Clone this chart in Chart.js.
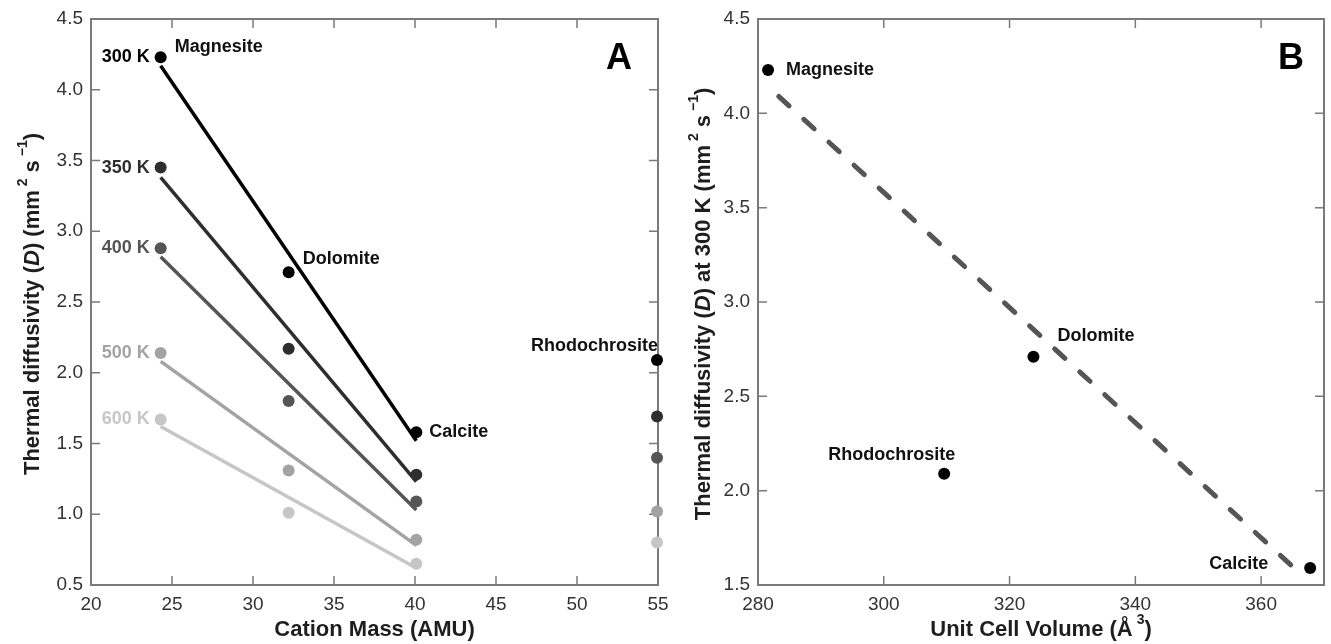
<!DOCTYPE html>
<html>
<head>
<meta charset="utf-8">
<script src="https://cdn.jsdelivr.net/npm/chart.js@4"></script>
<style>
html, body { margin: 0; padding: 0; background: #fff; overflow: hidden; }
#wrapA { position: absolute; left: 0; top: 0; }
#wrapB { position: absolute; left: 672px; top: 0; }
</style>
</head>
<body>
<div id="wrapA"><canvas id="chartA" width="672" height="644"></canvas></div>
<div id="wrapB"><canvas id="chartB" width="659" height="644"></canvas></div>
<script>
const FONT = '"Liberation Sans", Arial, Helvetica, sans-serif';

// panel A: diffusivity vs cation mass
const minerals = ['Magnesite', 'Dolomite', 'Calcite', 'Rhodochrosite'];
const cationMass = [24.3, 32.2, 40.08, 54.94];
const temps = ['300 K', '350 K', '400 K', '500 K', '600 K'];
const d300 = [4.23, 2.71, 1.58, 2.09];
const d350 = [3.45, 2.17, 1.28, 1.69];
const d400 = [2.88, 1.80, 1.09, 1.40];
const d500 = [2.14, 1.31, 0.82, 1.02];
const d600 = [1.67, 1.01, 0.65, 0.80];
// fitted lines (Magnesite -> Calcite)
const fitMass = [24.3, 40.08];
const fit300 = [4.17, 1.52];
const fit350 = [3.38, 1.23];
const fit400 = [2.82, 1.03];
const fit500 = [2.08, 0.78];
const fit600 = [1.62, 0.62];
const massTicks = [20, 25, 30, 35, 40, 45, 50, 55];
const diffTicksA = [0.5, 1.0, 1.5, 2.0, 2.5, 3.0, 3.5, 4.0, 4.5];

// panel B: diffusivity at 300 K vs unit cell volume
const mineralsB = ['Magnesite', 'Dolomite', 'Rhodochrosite', 'Calcite'];
const cellVolume = [281.6, 323.8, 309.6, 367.8];
const d300B = [4.23, 2.71, 2.09, 1.59];
const trendVolume = [283.3, 365.9];
const trendD = [4.09, 1.57];
const volumeTicks = [280, 300, 320, 340, 360];
const diffTicksB = [1.5, 2.0, 2.5, 3.0, 3.5, 4.0, 4.5];

const tempColors = ['#000000', '#2e2e2e', '#555555', '#a3a3a3', '#c6c6c6'];
const seriesA = [d300, d350, d400, d500, d600];
const fitsA = [fit300, fit350, fit400, fit500, fit600];

function pts(xs, ys) {
    return xs.map((x, i) => ({x: x, y: ys[i]}));
}

function fixedTicks(values) {
    return function (scale) {
        scale.ticks = values.map(v => ({value: v}));
    };
}

function tickLabel(v) {
    return Number.isInteger(v) && Math.abs(v) >= 10 ? String(v) : v.toFixed(1);
}

function drawRich(ctx, parts, cx, cy, rotate) {
    ctx.save();
    ctx.translate(cx, cy);
    if (rotate) ctx.rotate(-Math.PI / 2);
    const fontOf = p => (p.i ? 'italic ' : '') + 'bold ' + (p.sup ? 14 : 22) + 'px ' + FONT;
    let w = 0;
    parts.forEach(p => { ctx.font = fontOf(p); w += ctx.measureText(p.t).width; });
    let xp = -w / 2;
    ctx.textAlign = 'left';
    ctx.textBaseline = 'middle';
    ctx.fillStyle = '#1e1e1e';
    parts.forEach(p => {
        ctx.font = fontOf(p);
        ctx.fillText(p.t, xp, p.sup ? -10 : 0);
        xp += ctx.measureText(p.t).width;
    });
    ctx.restore();
}

// frame with inward ticks on all four sides
const framePlugin = {
    id: 'frame',
    beforeDatasetsDraw(chart) {
        const ctx = chart.ctx, a = chart.chartArea;
        const x = chart.scales.x, y = chart.scales.y;
        ctx.save();
        ctx.strokeStyle = '#7a7a7a';
        ctx.lineWidth = 1.5;
        ctx.beginPath();
        x.ticks.forEach(t => {
            const px = x.getPixelForValue(t.value);
            ctx.moveTo(px, a.bottom); ctx.lineTo(px, a.bottom - 9);
            ctx.moveTo(px, a.top); ctx.lineTo(px, a.top + 9);
        });
        y.ticks.forEach(t => {
            const py = y.getPixelForValue(t.value);
            ctx.moveTo(a.left, py); ctx.lineTo(a.left + 9, py);
            ctx.moveTo(a.right, py); ctx.lineTo(a.right - 9, py);
        });
        ctx.stroke();
        ctx.lineWidth = 2;
        ctx.strokeRect(a.left, a.top, a.right - a.left, a.bottom - a.top);
        ctx.restore();
    }
};

function textPlugin(id, labels, panel, yTitle, xTitle) {
    return {
        id: id,
        afterDatasetsDraw(chart) {
            const ctx = chart.ctx, a = chart.chartArea;
            const x = chart.scales.x, y = chart.scales.y;
            ctx.save();
            ctx.textBaseline = 'middle';
            labels.forEach(l => {
                ctx.font = 'bold ' + (l.size || 18) + 'px ' + FONT;
                ctx.fillStyle = l.color || '#111';
                ctx.textAlign = l.align || 'left';
                ctx.fillText(l.text, x.getPixelForValue(l.x) + l.dx, y.getPixelForValue(l.y) + l.dy);
            });
            ctx.font = 'bold 36px ' + FONT;
            ctx.fillStyle = '#000';
            ctx.textAlign = 'center';
            ctx.fillText(panel.text, a.right + panel.dx, a.top + 40);
            ctx.restore();
            drawRich(ctx, yTitle, yTitle.cx, (a.top + a.bottom) / 2 + 2, true);
            drawRich(ctx, xTitle, (a.left + a.right) / 2, 630, false);
        }
    };
}

function scaleOpts(min, max, values, size) {
    return {
        type: 'linear',
        min: min,
        max: max,
        afterBuildTicks: fixedTicks(values),
        afterFit: s => {
            if (s.isHorizontal()) s.height = size; else s.width = size;
            s.paddingLeft = 0; s.paddingRight = 0;
            s.paddingTop = 0; s.paddingBottom = 0;
        },
        grid: {display: false, drawTicks: false},
        border: {display: false},
        ticks: {
            autoSkip: false,
            maxRotation: 0,
            padding: 8,
            color: '#333',
            font: {family: FONT, size: 19},
            callback: v => tickLabel(v)
        }
    };
}

// ---------- chart A ----------
const datasetsA = [];
temps.forEach((t, i) => {
    datasetsA.push({
        label: t,
        data: pts(cationMass, seriesA[i]),
        showLine: false,
        pointRadius: 6,
        pointHoverRadius: 6,
        pointBackgroundColor: tempColors[i],
        pointBorderWidth: 0,
        clip: false,
        order: 0
    });
    datasetsA.push({
        label: t + ' fit',
        data: pts(fitMass, fitsA[i]),
        showLine: true,
        borderColor: tempColors[i],
        borderWidth: 3.5,
        pointRadius: 0,
        fill: false,
        clip: false,
        order: 1
    });
});

const labelsA = temps.map((t, i) => ({
    text: t, x: cationMass[0], y: seriesA[i][0], dx: -11, dy: 0, align: 'right', color: tempColors[i]
}));
labelsA.push({text: minerals[0], x: cationMass[0], y: d300[0], dx: 14, dy: -10});
labelsA.push({text: minerals[1], x: cationMass[1], y: d300[1], dx: 14, dy: -13});
labelsA.push({text: minerals[2], x: cationMass[2], y: d300[2], dx: 13, dy: 0});
labelsA.push({text: minerals[3], x: cationMass[3], y: d300[3], dx: 1, dy: -14, align: 'right'});

const yTitleA = [
    {t: 'Thermal diffusivity ('}, {t: 'D', i: 1}, {t: ') (mm'}, {t: ' 2', sup: 1},
    {t: ' s'}, {t: ' \u22121', sup: 1}, {t: ')'}
];
yTitleA.cx = 33;
const xTitleA = [{t: 'Cation Mass (AMU)'}];

new Chart(document.getElementById('chartA').getContext('2d'), {
    type: 'scatter',
    data: {datasets: datasetsA},
    options: {
        responsive: false,
        animation: false,
        layout: {padding: {left: 0, right: 14, top: 19, bottom: 0}},
        plugins: {legend: {display: false}, tooltip: {enabled: false}},
        scales: {
            x: scaleOpts(20, 55, massTicks, 59),
            y: scaleOpts(0.5, 4.5, diffTicksA, 91)
        }
    },
    plugins: [framePlugin, textPlugin('textA', labelsA, {text: 'A', dx: -39}, yTitleA, xTitleA)]
});

// ---------- chart B ----------
const labelsB = [
    {text: mineralsB[0], x: cellVolume[0], y: d300B[0], dx: 18, dy: 0},
    {text: mineralsB[1], x: cellVolume[1], y: d300B[1], dx: 24, dy: -21},
    {text: mineralsB[2], x: cellVolume[2], y: d300B[2], dx: 11, dy: -19, align: 'right'},
    {text: mineralsB[3], x: cellVolume[3], y: d300B[3], dx: -42, dy: -4, align: 'right'}
];

const yTitleB = [
    {t: 'Thermal diffusivity ('}, {t: 'D', i: 1}, {t: ') at 300 K (mm'}, {t: ' 2', sup: 1},
    {t: ' s'}, {t: ' \u22121', sup: 1}, {t: ')'}
];
yTitleB.cx = 32;
const xTitleB = [{t: 'Unit Cell Volume (\u00c5'}, {t: ' 3', sup: 1}, {t: ')'}];

new Chart(document.getElementById('chartB').getContext('2d'), {
    type: 'scatter',
    data: {
        datasets: [{
            label: 'D at 300 K',
            data: pts(cellVolume, d300B),
            showLine: false,
            pointRadius: 6,
            pointHoverRadius: 6,
            pointBackgroundColor: '#000',
            pointBorderWidth: 0,
            clip: false,
            order: 0
        }, {
            label: 'trend',
            data: pts(trendVolume, trendD),
            showLine: true,
            borderColor: '#555',
            borderWidth: 5,
            borderDash: [14, 20],
            borderCapStyle: 'round',
            pointRadius: 0,
            fill: false,
            clip: false,
            order: 1
        }]
    },
    options: {
        responsive: false,
        animation: false,
        layout: {padding: {left: 0, right: 7, top: 19, bottom: 0}},
        plugins: {legend: {display: false}, tooltip: {enabled: false}},
        scales: {
            x: scaleOpts(280, 370, volumeTicks, 59),
            y: scaleOpts(1.5, 4.5, diffTicksB, 86)
        }
    },
    plugins: [framePlugin, textPlugin('textB', labelsB, {text: 'B', dx: -33}, yTitleB, xTitleB)]
});
</script>
</body>
</html>
